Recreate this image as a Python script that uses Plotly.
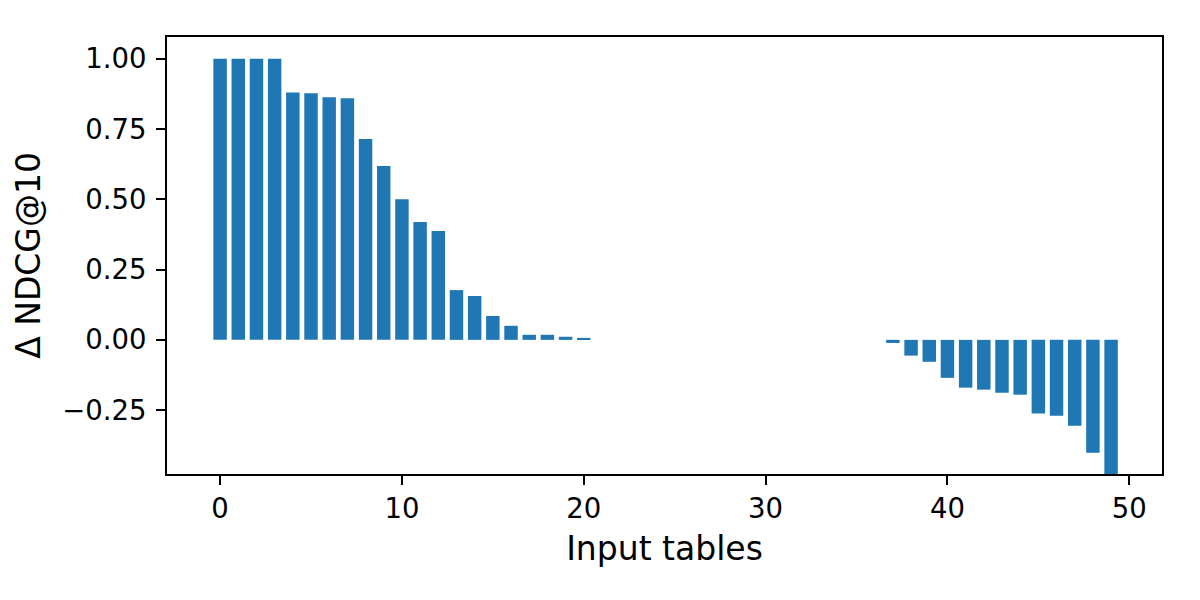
"""Bar chart of per-table NDCG@10 change, rebuilt with Plotly."""

import plotly.graph_objects as go

tables = list(range(50))
delta_ndcg = [
    1.0, 1.0, 1.0, 1.0, 0.880, 0.877, 0.863, 0.859, 0.714, 0.618,
    0.500, 0.419, 0.387, 0.177, 0.156, 0.085, 0.050, 0.018, 0.018, 0.011,
    0.007, 0.0, 0.0, 0.0, 0.0, 0.0, 0.0, 0.0, 0.0, 0.0,
    0.0, 0.0, 0.0, 0.0, 0.0, 0.0, 0.0, -0.011, -0.056, -0.078,
    -0.135, -0.170, -0.177, -0.188, -0.195, -0.262, -0.270, -0.305, -0.401, -0.55,
]
y_ticks = [-0.25, 0.0, 0.25, 0.5, 0.75, 1.0]
x_ticks = [0, 10, 20, 30, 40, 50]

fig = go.Figure(
    go.Bar(x=tables, y=delta_ndcg, width=0.74, marker_color="#1f77b4", marker_line_width=0)
)

axis_common = dict(
    showline=True,
    linecolor="black",
    linewidth=2,
    mirror=True,
    ticks="outside",
    ticklen=9,
    tickwidth=2,
    tickcolor="black",
    showgrid=False,
    zeroline=False,
    tickfont=dict(family="DejaVu Sans", size=27.5, color="black"),
)
title_font = dict(family="DejaVu Sans", size=33, color="black")

# page body adds ~8px offset, so margins are shifted accordingly
fig.update_layout(
    width=1200,
    height=600,
    plot_bgcolor="white",
    paper_bgcolor="white",
    showlegend=False,
    margin=dict(l=159, r=46, t=29, b=134),
    xaxis=dict(
        axis_common,
        range=[-2.92, 51.8],
        tickvals=x_ticks,
        title=dict(text="Input tables", font=title_font, standoff=14),
    ),
    yaxis=dict(
        axis_common,
        range=[-0.477, 1.077],
        tickvals=y_ticks,
        tickformat=".2f",
        ticklabelstandoff=4,
        title=dict(text="Δ NDCG@10", font=title_font, standoff=12),
    ),
)

fig.write_html("out.html")
